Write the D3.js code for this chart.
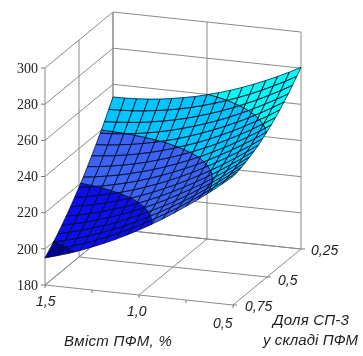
<!DOCTYPE html>
<html><head><meta charset="utf-8">
<script src="https://cdn.jsdelivr.net/npm/d3@7"></script>
<style>html,body{margin:0;padding:0;background:#fff}svg{display:block}</style>
</head><body><svg id="c" width="363" height="356"></svg>
<script>
const pfmValues=[1.5,1.4375,1.375,1.3125,1.25,1.1875,1.125,1.0625,1,0.9375,0.875,0.8125,0.75,0.6875,0.625,0.5625,0.5];
const shareValues=[0.75,0.71875,0.6875,0.65625,0.625,0.59375,0.5625,0.53125,0.5,0.46875,0.4375,0.40625,0.375,0.34375,0.3125,0.28125,0.25];
const strengthRows=[
[195,196.9,198.9,201.2,203.8,206.5,209.4,212.6,216,219.6,223.4,227.5,231.8,236.2,240.9,245.9,251],
[197.3,199.1,201.1,203.2,205.6,208.3,211.1,214.2,217.5,221,224.7,228.6,232.8,237.1,241.7,246.5,251.6],
[199.8,201.5,203.3,205.4,207.7,210.2,212.9,215.9,219.1,222.5,226.1,229.9,233.9,238.2,242.7,247.4,252.3],
[202.5,204.1,205.8,207.8,209.9,212.3,215,217.8,220.9,224.1,227.6,231.3,235.3,239.4,243.8,248.4,253.2],
[205.4,206.8,208.4,210.3,212.4,214.6,217.2,219.9,222.8,226,229.4,233,236.8,240.8,245.1,249.6,254.3],
[208.4,209.7,211.2,213,214.9,217.1,219.5,222.1,225,228,231.3,234.8,238.5,242.4,246.6,250.9,255.5],
[211.6,212.8,214.2,215.8,217.7,219.7,222,224.5,227.3,230.2,233.4,236.7,240.3,244.1,248.2,252.4,256.9],
[215,216,217.3,218.9,220.6,222.5,224.7,227.1,229.7,232.6,235.6,238.9,242.4,246.1,250,254.1,258.5],
[218.5,219.5,220.7,222.1,223.7,225.5,227.6,229.9,232.4,235.1,238,241.2,244.6,248.2,252,256,260.3],
[222.2,223.1,224.2,225.4,227,228.7,230.6,232.8,235.2,237.8,240.6,243.7,246.9,250.4,254.1,258,262.2],
[226.1,226.8,227.8,229,230.4,232,233.9,235.9,238.2,240.7,243.4,246.3,249.5,252.9,256.4,260.3,264.3],
[230.2,230.8,231.6,232.7,234,235.5,237.2,239.2,241.4,243.7,246.3,249.2,252.2,255.5,259,262.6,266.6],
[234.4,234.9,235.7,236.6,237.8,239.2,240.8,242.6,244.7,247,249.5,252.2,255.1,258.2,261.6,265.2,269],
[238.8,239.2,239.8,240.7,241.7,243,244.5,246.3,248.2,250.4,252.7,255.3,258.2,261.2,264.5,267.9,271.6],
[243.3,243.6,244.2,244.9,245.9,247,248.4,250,251.9,253.9,256.2,258.7,261.4,264.3,267.5,270.8,274.4],
[248.1,248.3,248.7,249.3,250.2,251.2,252.5,254,255.7,257.7,259.8,262.2,264.8,267.6,270.7,273.9,277.4],
[253,253.1,253.4,253.9,254.6,255.6,256.8,258.1,259.8,261.6,263.6,265.9,268.4,271.1,274,277.1,280.5]
];
const zTicks=[180,200,220,240,260,280,300];
const zTickLabels=["180","200","220","240","260","280","300"];
const pfmTicks=[1.5,1,0.5];
const pfmTickLabels=["1,5","1,0","0,5"];
const pfmMinorTicks=[1.25,0.75];
const shareTicks=[0.75,0.5,0.25];
const shareTickLabels=["0,75","0,5","0,25"];
const bandLimits=[200,220,240,260];
const bandColors=["#00009c","#0a0af0","#3c64f5","#00c6ff","#00fcf6"];

const svg=d3.select("#c");
const defs=svg.append("defs");
defs.append("filter").attr("id","soft").attr("x","-5%").attr("y","-5%").attr("width","110%").attr("height","110%")
  .append("feGaussianBlur").attr("stdDeviation",0.35);
const root=svg.append("g").attr("filter","url(#soft)");

const pfmPx=d3.scaleLinear().domain([1.5,0.5]).range([45,233]);
const pfmPy=d3.scaleLinear().domain([1.5,0.5]).range([285,305]);
const sharePx=d3.scaleLinear().domain([0.75,0.25]).range([0,68]);
const sharePy=d3.scaleLinear().domain([0.75,0.25]).range([0,-56]);
const zPy=d3.scaleLinear().domain([180,300]).range([0,-217]);
const bandOf=d3.scaleThreshold().domain(bandLimits).range(bandColors);
const project=(p,s,z)=>[pfmPx(p)+sharePx(s),pfmPy(p)+sharePy(s)+zPy(z)];
const lineGen=d3.line();

const wall=root.append("g").attr("fill","none").attr("stroke","#8a8a8a").attr("stroke-width",1);
const seg=(g,a,b)=>g.append("path").attr("d",lineGen([a,b]));
const P0=1.5,P1=0.5,S0=0.75,S1=0.25,Z0=180,Z1=300;
zTicks.forEach(z=>{
  wall.append("path").attr("d",lineGen([project(P0,S0,z),project(P0,S1,z),project(P1,S1,z)]));
});
shareTicks.forEach(s=>{
  seg(wall,project(P0,s,Z0),project(P0,s,Z1));
  seg(wall,project(P0,s,Z0),project(P1,s,Z0));
});
pfmTicks.forEach(p=>{
  seg(wall,project(p,S1,Z0),project(p,S1,Z1));
  seg(wall,project(p,S0,Z0),project(p,S1,Z0));
});
const tick=root.append("g").attr("fill","none").attr("stroke","#777").attr("stroke-width",1);
zTicks.forEach(z=>{const a=project(P0,S0,z);seg(tick,a,[a[0]-4,a[1]]);});
pfmTicks.concat(pfmMinorTicks).forEach(p=>{const a=project(p,S0,Z0);seg(tick,a,[a[0],a[1]+3]);});
shareTicks.forEach(s=>{const a=project(P1,s,Z0);seg(tick,a,[a[0]+4,a[1]]);});

function clipBand(poly,lo,hi){
  const cut=(pts,keep,lim)=>{
    const out=[];
    pts.forEach((a,i)=>{
      const b=pts[(i+1)%pts.length],ka=keep(a[2]),kb=keep(b[2]);
      if(ka)out.push(a);
      if(ka!==kb){const t=(lim-a[2])/(b[2]-a[2]);out.push([a[0]+t*(b[0]-a[0]),a[1]+t*(b[1]-a[1]),lim]);}
    });
    return out;
  };
  let r=poly;
  if(isFinite(lo)&&r.length)r=cut(r,z=>z>=lo,lo);
  if(isFinite(hi)&&r.length)r=cut(r,z=>z<=hi,hi);
  return r;
}
const surf=root.append("g");
const fills=surf.append("g"),grid=surf.append("g"),contours=surf.append("g");
const limits=[-Infinity,...bandLimits,Infinity];
for(let j=shareValues.length-2;j>=0;j--){
  for(let i=0;i<pfmValues.length-1;i++){
    const corners=[[i,j],[i+1,j],[i+1,j+1],[i,j+1]].map(([a,b])=>{
      const z=strengthRows[b][a];
      const q=project(pfmValues[a],shareValues[b],z);
      return [q[0],q[1],z];
    });
    for(let k=0;k<bandColors.length;k++){
      const piece=clipBand(corners,limits[k],limits[k+1]);
      if(piece.length>2){
        const col=bandOf((limits[k]===-Infinity?limits[k+1]-1:limits[k]+0.01));
        fills.append("path").attr("d",lineGen(piece.map(c=>[c[0],c[1]]))+"Z")
          .attr("fill",col).attr("stroke",col).attr("stroke-width",0.4);
      }
    }
    grid.append("path").attr("d",lineGen(corners.map(c=>[c[0],c[1]]))+"Z")
      .attr("fill","none").attr("stroke","#00102a").attr("stroke-width",0.85).attr("stroke-opacity",0.85);
    bandLimits.forEach(lim=>{
      const cross=[];
      corners.forEach((a,n)=>{
        const b=corners[(n+1)%4];
        if((a[2]-lim)*(b[2]-lim)<0){const t=(lim-a[2])/(b[2]-a[2]);cross.push([a[0]+t*(b[0]-a[0]),a[1]+t*(b[1]-a[1])]);}
      });
      if(cross.length>=2)contours.append("path").attr("d",lineGen(cross.slice(0,2)))
        .attr("fill","none").attr("stroke","#00102a").attr("stroke-width",1);
    });
  }
}

const serif='"Liberation Serif","Times New Roman",serif',sans='"Liberation Sans",Arial,sans-serif';
const txt=(x,y,t,o)=>root.append("text").attr("x",x).attr("y",y+1).attr("dominant-baseline","middle")
  .attr("text-anchor",o.a||"start").attr("font-family",o.f||sans).attr("font-size",o.s||13)
  .attr("font-style",o.i?"italic":"normal").attr("letter-spacing",o.l||0).attr("fill","#222").text(t);
zTicks.forEach((z,i)=>{const a=project(P0,S0,z);txt(38,a[1]+0.5,zTickLabels[i],{a:"end",f:serif,s:14});});
const pfmLabelPos=[[36,301],[127,311],[213,323]];
pfmTicks.forEach((p,i)=>txt(pfmLabelPos[i][0],pfmLabelPos[i][1],pfmTickLabels[i],{i:1,s:14}));
const shareLabelPos=[[245,306],[278,280],[311,250]];
shareTicks.forEach((s,i)=>txt(shareLabelPos[i][0],shareLabelPos[i][1],shareTickLabels[i],{i:1,s:14}));
txt(64,341,"Вміст ПФМ, %",{i:1,s:15,l:0.3});
txt(273,320,"Доля СП-3",{i:1,s:15,l:0.2});
txt(263,340,"у складі ПФМ",{i:1,s:15,l:0.1});
</script></body></html>
